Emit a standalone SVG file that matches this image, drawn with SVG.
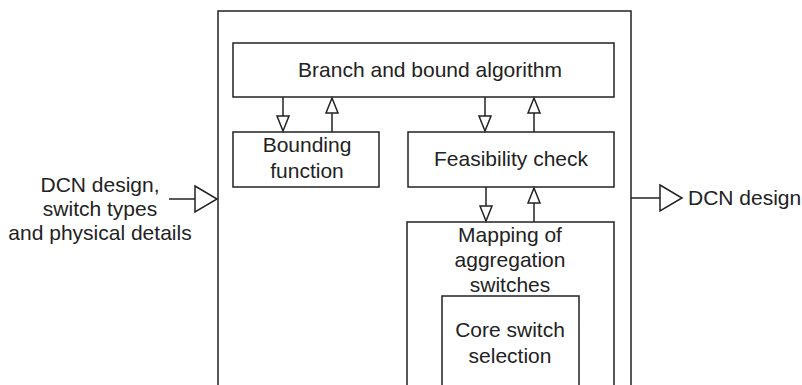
<svg xmlns="http://www.w3.org/2000/svg" width="802" height="385" viewBox="0 0 802 385">
<style>
.box{fill:none;stroke:#222;stroke-width:1.5}
.ln{fill:none;stroke:#222;stroke-width:1.5}
.hd{fill:#fff;stroke:#222;stroke-width:1.5;stroke-linejoin:miter}
text{font-family:"Liberation Sans",Arial,sans-serif;font-size:21px;fill:#222;text-anchor:middle}
</style>
<rect width="802" height="385" fill="#fff"/>
<g id="system">
<path class="box" d="M218,390 V11 H631 V390"/>
</g>
<g id="branch">
<rect class="box" x="233" y="43" width="381" height="54"/>
<text x="430" y="77">Branch and bound algorithm</text>
</g>
<g id="bounding">
<rect class="box" x="233" y="132" width="146" height="55"/>
<text x="307" y="152">Bounding</text>
<text x="307" y="178">function</text>
</g>
<g id="feasibility">
<rect class="box" x="408" y="132" width="206" height="55"/>
<text x="511" y="166">Feasibility check</text>
</g>
<g id="mapping">
<path class="box" d="M407,390 V222 H614 V390"/>
<text x="510" y="242">Mapping of</text>
<text x="510" y="267">aggregation</text>
<text x="510" y="292">switches</text>
</g>
<g id="core">
<path class="box" d="M442,390 V296 H579 V390"/>
<text x="510" y="337">Core switch</text>
<text x="510" y="363">selection</text>
</g>
<g id="input">
<text x="100" y="192">DCN design,</text>
<text x="100" y="216">switch types</text>
<text x="100" y="240">and physical details</text>
</g>
<g id="output">
<text x="688" y="205" style="text-anchor:start">DCN design</text>
</g>
<g id="connectors">
<line class="ln" x1="169" y1="199" x2="195" y2="199"/>
<polygon class="hd" points="195,186 217,199 195,212"/>
<line class="ln" x1="631" y1="198" x2="660" y2="198"/>
<polygon class="hd" points="660,185 682,198 660,211"/>
<line class="ln" x1="283" y1="97" x2="283" y2="117"/>
<polygon class="hd" points="277,116 289,116 283,131"/>
<line class="ln" x1="332" y1="132" x2="332" y2="113"/>
<polygon class="hd" points="326,113 338,113 332,98"/>
<line class="ln" x1="485" y1="97" x2="485" y2="117"/>
<polygon class="hd" points="479,116 491,116 485,131"/>
<line class="ln" x1="534" y1="132" x2="534" y2="113"/>
<polygon class="hd" points="528,113 540,113 534,98"/>
<line class="ln" x1="486" y1="187" x2="486" y2="207"/>
<polygon class="hd" points="480,206 492,206 486,221"/>
<line class="ln" x1="534" y1="222" x2="534" y2="203"/>
<polygon class="hd" points="528,203 540,203 534,188"/>
</g>
</svg>
